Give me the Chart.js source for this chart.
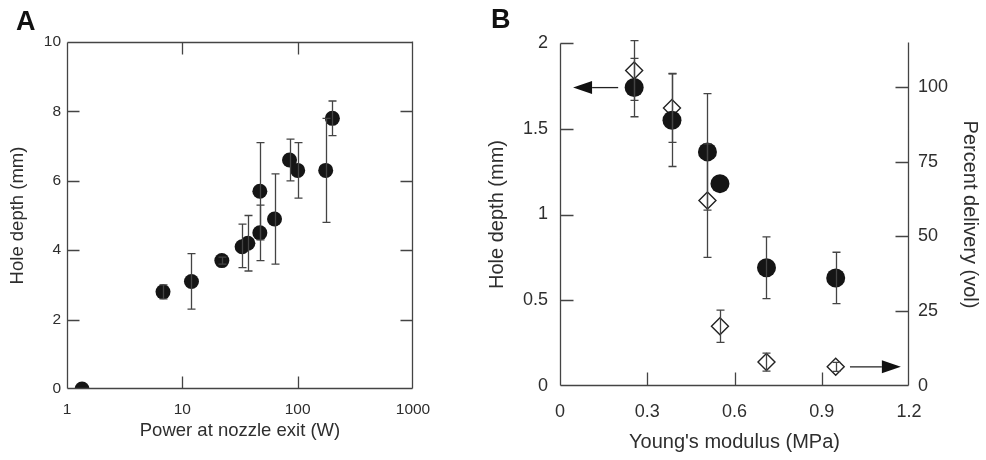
<!DOCTYPE html>
<html>
<head>
<meta charset="utf-8">
<script src="https://cdn.jsdelivr.net/npm/chart.js@4.4.0/dist/chart.umd.min.js"></script>
<style>
  html, body { margin: 0; padding: 0; background: #fff; }
  #wrap { position: relative; width: 986px; height: 460px; font-family: "Liberation Sans", Arial, sans-serif; }
  canvas { position: absolute; top: 0; }
  #chartA { left: 0; width: 450px; height: 460px; }
  #chartB { left: 480px; width: 506px; height: 460px; }
  .panel { position: absolute; font-weight: bold; font-size: 27px; line-height: 27px; color: #111; }
</style>
</head>
<body>
<div id="wrap">
  <canvas id="chartA" width="450" height="460"></canvas>
  <canvas id="chartB" width="506" height="460"></canvas>
  <div class="panel" style="left:16px;top:8px">A</div>
  <div class="panel" style="left:491px;top:6px">B</div>
</div>
<script>
// panel A - hole depth vs power at nozzle exit
const powerW     = [1.35, 6.8, 12, 22, 33, 37, 47, 47, 63, 85, 100, 175, 200];
const depthA     = [0, 2.8, 3.1, 3.7, 4.1, 4.2, 4.5, 5.7, 4.9, 6.6, 6.3, 6.3, 7.8];
const depthALow  = [0, 2.6, 2.3, 3.6, 3.5, 3.4, 3.7, 4.3, 3.6, 6.0, 5.5, 4.8, 7.3];
const depthAHigh = [0, 3.0, 3.9, 3.8, 4.75, 5.0, 5.3, 7.1, 6.2, 7.2, 7.1, 7.8, 8.3];
const ticksAX = [1, 10, 100, 1000];
const ticksAY = [0, 2, 4, 6, 8, 10];

// panel B - hole depth (circles) and percent delivery (diamonds) vs modulus
const modulus     = [0.255, 0.385, 0.507, 0.55, 0.71, 0.948];
const depthB      = [1.74, 1.55, 1.365, 1.18, 0.69, 0.63];
const depthBErr   = [0.17, 0.27, 0.34, 0, 0.18, 0.15];
const delivery    = [105.5, 93, 62, 20, 8, 6.4];
const deliveryErr = [10, 11.5, 19, 5.4, 3, 1.5];
const ticksBX  = [0, 0.3, 0.6, 0.9, 1.2];
const ticksBY  = [0, 0.5, 1, 1.5, 2];
const ticksBY2 = [0, 25, 50, 75, 100];

const INK = "#2e2e2e";
const LINE = "#444";
Chart.defaults.font.family = '"Liberation Sans", Arial, sans-serif';

const setTicks = (vals) => (s) => { s.ticks = vals.map((v) => ({ value: v })); };

// vertical error bars with caps, drawn from errLow / errHigh on each dataset
function errorBars(capHalf) {
  return {
    id: "errorBars",
    afterDatasetsDraw(chart) {
      const ctx = chart.ctx;
      chart.data.datasets.forEach((ds, i) => {
        if (!ds.errLow) return;
        const meta = chart.getDatasetMeta(i);
        const xs = chart.scales[meta.xAxisID];
        const ys = chart.scales[meta.yAxisID];
        ctx.save();
        ctx.strokeStyle = LINE;
        ctx.lineWidth = 1.3;
        ds.data.forEach((p, j) => {
          if (ds.errHigh[j] === ds.errLow[j]) return;
          const px = Math.round(xs.getPixelForValue(p.x)) + 0.5;
          const lo = ys.getPixelForValue(ds.errLow[j]);
          const hi = ys.getPixelForValue(ds.errHigh[j]);
          ctx.beginPath();
          ctx.moveTo(px, lo); ctx.lineTo(px, hi);
          ctx.moveTo(px - capHalf, lo); ctx.lineTo(px + capHalf, lo);
          ctx.moveTo(px - capHalf, hi); ctx.lineTo(px + capHalf, hi);
          ctx.stroke();
        });
        ctx.restore();
      });
    },
  };
}

// axis lines and inward tick marks
function frame(edges, tickSpecs, len) {
  return {
    id: "frame",
    afterDraw(chart) {
      const { ctx, chartArea: a } = chart;
      const L = Math.round(a.left) + 0.5, R = Math.round(a.right) - 0.5;
      const T = Math.round(a.top) + 0.5, B = Math.round(a.bottom) - 0.5;
      ctx.save();
      ctx.strokeStyle = LINE;
      ctx.lineWidth = 1.3;
      ctx.beginPath();
      if (edges.includes("top")) { ctx.moveTo(L, T); ctx.lineTo(R, T); }
      if (edges.includes("bottom")) { ctx.moveTo(L, B); ctx.lineTo(R, B); }
      if (edges.includes("left")) { ctx.moveTo(L, T); ctx.lineTo(L, B); }
      if (edges.includes("right")) { ctx.moveTo(R, T - 1); ctx.lineTo(R, B); }
      tickSpecs.forEach((t) => {
        const s = chart.scales[t.axis];
        t.values.forEach((v) => {
          const p = Math.round(s.getPixelForValue(v)) + 0.5;
          if (t.side === "bottom") { ctx.moveTo(p, B); ctx.lineTo(p, B - len); }
          if (t.side === "top") { ctx.moveTo(p, T); ctx.lineTo(p, T + len); }
          if (t.side === "left") { ctx.moveTo(L, p); ctx.lineTo(L + len, p); }
          if (t.side === "right") { ctx.moveTo(R, p); ctx.lineTo(R - len, p); }
        });
      });
      ctx.stroke();
      ctx.restore();
    },
  };
}

// arrows pointing to the axis each series belongs to
const arrowsB = [
  { axis: "y", y: 1.74, x0: 0.2, x1: 0.045 },
  { axis: "y2", y: 6.4, x0: 0.997, x1: 1.172 },
];
const arrowPlugin = {
  id: "arrows",
  afterDraw(chart) {
    const ctx = chart.ctx;
    const xs = chart.scales.x;
    arrowsB.forEach((a) => {
      const py = chart.scales[a.axis].getPixelForValue(a.y);
      const p0 = xs.getPixelForValue(a.x0);
      const p1 = xs.getPixelForValue(a.x1);
      const dir = p1 > p0 ? 1 : -1;
      const head = 19;
      ctx.save();
      ctx.strokeStyle = "#222";
      ctx.fillStyle = "#111";
      ctx.lineWidth = 1.3;
      ctx.beginPath();
      ctx.moveTo(p0, py);
      ctx.lineTo(p1 - dir * head, py);
      ctx.stroke();
      ctx.beginPath();
      ctx.moveTo(p1, py);
      ctx.lineTo(p1 - dir * head, py - 6.5);
      ctx.lineTo(p1 - dir * head, py + 6.5);
      ctx.closePath();
      ctx.fill();
      ctx.restore();
    });
  },
};

const chartA = new Chart(document.getElementById("chartA"), {
  type: "scatter",
  data: {
    datasets: [
      {
        data: powerW.map((x, i) => ({ x: x, y: depthA[i] })),
        errLow: depthALow,
        errHigh: depthAHigh,
        pointRadius: 7.5,
        pointBackgroundColor: "#151515",
        pointBorderColor: "#151515",
        pointBorderWidth: 0,
      },
    ],
  },
  options: {
    responsive: false,
    animation: false,
    layout: { padding: { top: 42, right: 37, bottom: 0, left: 0 } },
    plugins: { legend: { display: false }, tooltip: { enabled: false } },
    scales: {
      x: {
        type: "logarithmic",
        min: 1,
        max: 1000,
        afterBuildTicks: setTicks(ticksAX),
        afterFit: (s) => { s.height = 71; },
        grid: { display: false, drawTicks: false },
        border: { display: false },
        ticks: { color: INK, font: { size: 15.5 }, padding: 11, maxRotation: 0, autoSkip: false, callback: (v) => String(v) },
        title: { display: true, text: "Power at nozzle exit (W)", color: INK, font: { size: 18.5 }, padding: { top: 0, bottom: 18 } },
      },
      y: {
        min: 0,
        max: 10,
        afterBuildTicks: setTicks(ticksAY),
        afterFit: (s) => { s.width = 67; },
        grid: { display: false, drawTicks: false },
        border: { display: false },
        ticks: { color: INK, font: { size: 15.5 }, padding: 6, callback: (v) => String(v) },
        title: { display: true, text: "Hole depth (mm)", color: INK, font: { size: 18.5 }, padding: { top: 7, bottom: 0 } },
      },
    },
  },
  plugins: [
    errorBars(4),
    frame(["top", "bottom", "left", "right"], [
      { axis: "x", values: [10, 100], side: "bottom" },
      { axis: "x", values: [10, 100], side: "top" },
      { axis: "y", values: [2, 4, 6, 8], side: "left" },
      { axis: "y", values: [2, 4, 6, 8], side: "right" },
    ], 12),
  ],
});

const chartB = new Chart(document.getElementById("chartB"), {
  type: "scatter",
  data: {
    datasets: [
      {
        data: modulus.map((x, i) => ({ x: x, y: delivery[i] })),
        yAxisID: "y2",
        errLow: delivery.map((v, i) => v - deliveryErr[i]),
        errHigh: delivery.map((v, i) => v + deliveryErr[i]),
        pointStyle: "rectRot",
        pointRadius: 8.5,
        pointBackgroundColor: "#fff",
        pointBorderColor: "#222",
        pointBorderWidth: 1.4,
        order: 1,
      },
      {
        data: modulus.map((x, i) => ({ x: x, y: depthB[i] })),
        yAxisID: "y",
        errLow: depthB.map((v, i) => v - depthBErr[i]),
        errHigh: depthB.map((v, i) => v + depthBErr[i]),
        pointRadius: 9.5,
        pointBackgroundColor: "#151515",
        pointBorderColor: "#151515",
        pointBorderWidth: 0,
        order: 0,
      },
    ],
  },
  options: {
    responsive: false,
    animation: false,
    layout: { padding: { top: 43, right: 0, bottom: 0, left: 0 } },
    plugins: { legend: { display: false }, tooltip: { enabled: false } },
    scales: {
      x: {
        min: 0,
        max: 1.2,
        afterBuildTicks: setTicks(ticksBX),
        afterFit: (s) => { s.height = 74; },
        grid: { display: false, drawTicks: false },
        border: { display: false },
        ticks: { color: INK, font: { size: 18 }, padding: 15, maxRotation: 0, autoSkip: false, callback: (v) => String(v) },
        title: { display: true, text: "Young's modulus (MPa)", color: INK, font: { size: 20 }, padding: { top: 0, bottom: 6 } },
      },
      y: {
        min: 0,
        max: 2,
        afterBuildTicks: setTicks(ticksBY),
        afterFit: (s) => { s.width = 80; },
        grid: { display: false, drawTicks: false },
        border: { display: false },
        ticks: { color: INK, font: { size: 18 }, padding: 12, callback: (v) => String(v) },
        title: { display: true, text: "Hole depth (mm)", color: INK, font: { size: 20 }, padding: { top: 5, bottom: 0 } },
      },
      y2: {
        position: "right",
        min: 0,
        max: 114.7,
        afterBuildTicks: setTicks(ticksBY2),
        afterFit: (s) => { s.width = 77; },
        grid: { display: false, drawTicks: false },
        border: { display: false },
        ticks: { color: INK, font: { size: 18 }, padding: 9, callback: (v) => String(v) },
        title: { display: true, text: "Percent delivery (vol)", color: INK, font: { size: 20 }, padding: { top: 4, bottom: 0 } },
      },
    },
  },
  plugins: [
    errorBars(4),
    arrowPlugin,
    frame(["bottom", "left", "right"], [
      { axis: "x", values: [0.3, 0.6, 0.9], side: "bottom" },
      { axis: "y", values: [0.5, 1, 1.5, 2], side: "left" },
      { axis: "y2", values: [25, 50, 75, 100], side: "right" },
    ], 13),
  ],
});
</script>
</body>
</html>
